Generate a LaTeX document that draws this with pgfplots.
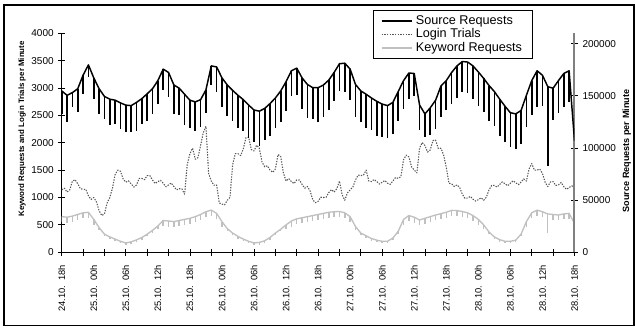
\documentclass[border=0pt]{standalone}
\usepackage{pgfplots}
\pgfplotsset{compat=1.18}
\usepackage{pgfplotstable}
\usepackage{fontspec}
\setmainfont{Liberation Sans}

\pgfplotstableread{
t S Sd K Kd
0 154700 22000 650 100
1 150500 26000 640 100
2 153100 14000 660 100
3 156800 22000 690 100
4 169800 18000 720 100
5 179700 12000 730 100
6 167200 20000 600 100
7 156800 24000 450 40
8 149400 22000 330 40
9 146800 25000 280 40
10 145800 23000 240 40
11 143200 25000 200 40
12 141100 26000 170 40
13 140600 25000 190 40
14 143700 27000 225 40
15 147300 24000 270 40
16 152000 26000 330 40
17 156800 24000 400 40
18 164600 22000 480 60
19 175600 20000 580 100
20 172400 24000 570 100
21 160400 28000 560 100
22 157300 26000 580 100
23 151500 29000 600 100
24 145800 27000 620 100
25 144200 28000 650 100
26 146300 26000 690 100
27 155700 22000 740 100
28 178700 18000 770 100
29 177700 24000 710 100
30 167200 28000 560 100
31 160400 30000 430 40
32 155200 29000 350 40
33 150500 31000 290 40
34 146300 30000 240 40
35 141100 32000 200 40
36 136400 31000 170 40
37 135300 33000 180 40
38 137900 30000 210 40
39 142600 31000 270 40
40 147900 29000 350 40
41 154700 30000 420 40
42 163500 28000 500 80
43 174000 24000 570 100
44 176600 26000 610 100
45 167200 30000 630 100
46 160900 32000 650 100
47 157800 30000 670 100
48 157800 33000 690 100
49 160400 31000 710 100
50 165100 29000 730 100
51 172400 27000 740 100
52 180800 26000 745 100
53 181300 28000 720 100
54 175600 30000 650 100
55 160900 31000 470 60
56 154700 30000 350 40
57 151500 32000 300 40
58 147900 31000 250 40
59 144700 33000 220 40
60 142100 32000 200 40
61 140600 31000 200 40
62 143700 30000 260 40
63 154100 28000 380 40
64 164600 27000 600 100
65 171900 25000 670 100
66 171400 22000 640 100
67 141100 24000 590 100
68 132700 22000 620 100
69 138500 26000 650 100
70 145800 28000 680 100
71 159400 30000 705 100
72 164600 28000 730 100
73 172400 30000 765 100
74 178700 31000 760 100
75 182900 29000 745 100
76 182400 30000 720 100
77 178700 32000 670 100
78 172900 33000 600 100
79 166700 32000 500 80
80 159900 34000 370 40
81 154100 33000 280 40
82 146800 35000 230 40
83 140000 34000 200 40
84 133800 33000 200 40
85 132700 34000 220 40
86 135900 32000 330 40
87 150500 30000 560 100
88 164600 33000 720 100
89 174000 35000 770 100
90 169800 30000 740 100
91 158800 76000 700 350
92 157300 30000 690 100
93 164600 31000 680 100
94 171400 32000 700 100
95 174000 30000 710 100
96 107100 0 530 0
}\data

\pgfplotstableread{
t L
0 1140
0.5 1170
1 1100
1.5 1140
2 1300
2.5 1325
3 1250
3.5 1160
4 1150
4.5 1150
5 1030
5.5 965
6 1000
6.5 920
7 760
7.5 670
8 700
8.5 900
9 1000
9.5 1170
10 1420
10.5 1500
11 1480
11.5 1340
12 1280
12.5 1305
13 1250
13.5 1190
14 1230
14.5 1350
15 1350
15.5 1325
16 1400
16.5 1400
17 1320
17.5 1255
18 1290
18.5 1315
19 1260
19.5 1195
20 1230
20.5 1265
21 1200
21.5 1140
22 1160
22.5 1160
23 1060
23.5 1600
24 1800
24.5 1900
25 1700
25.5 1725
26 1950
26.5 2185
27 2300
27.5 1440
28 1300
28.5 1225
29 1230
29.5 900
30 880
30.5 865
31 950
31.5 1000
32 1600
32.5 1800
33 1800
33.5 1765
34 1890
34.5 2095
35 2100
35.5 1875
36 1850
36.5 1955
37 1900
37.5 1650
38 1560
38.5 1580
39 1500
39.5 1460
40 1520
40.5 1785
41 1750
41.5 1450
42 1300
42.5 1345
43 1290
43.5 1255
44 1320
44.5 1320
45 1240
45.5 1170
46 1200
46.5 1120
47 960
47.5 905
48 930
48.5 1005
49 1000
49.5 1005
50 1090
50.5 1145
51 1100
51.5 1160
52 1300
52.5 1050
53 950
53.5 1085
54 1140
54.5 1190
55 1320
55.5 1410
56 1400
56.5 1410
57 1500
57.5 1300
58 1290
58.5 1330
59 1290
59.5 1245
60 1280
60.5 1310
61 1260
61.5 1240
62 1300
62.5 1365
63 1350
63.5 1380
64 1690
64.5 1775
65 1740
65.5 1560
66 1500
66.5 1450
67 1900
67.5 2005
68 1950
68.5 1830
69 1870
69.5 2040
70 2050
70.5 1895
71 1900
71.5 1775
72 1550
72.5 1260
73 1250
73.5 1200
74 1230
74.5 1185
75 1060
75.5 985
76 990
76.5 1020
77 970
77.5 935
78 960
78.5 995
79 950
79.5 1005
80 1140
80.5 1220
81 1220
81.5 1190
82 1240
82.5 1285
83 1250
83.5 1215
84 1260
84.5 1305
85 1270
85.5 1235
86 1280
86.5 1340
87 1300
87.5 1520
88 1620
88.5 1500
89 1500
89.5 1520
90 1440
90.5 1280
91 1200
91.5 1285
92 1290
92.5 1220
93 1230
93.5 1275
94 1200
94.5 1150
95 1180
95.5 1215
96 1170
}\login

\definecolor{kwgray}{RGB}{192,192,192}
\definecolor{logingray}{RGB}{85,85,85}
\definecolor{axgray}{RGB}{128,128,128}

\pgfplotsset{
  common/.style={
    scale only axis, width=384.6pt, height=164.25pt,
    at={(0pt,0pt)}, anchor=south west,
    xmin=0, xmax=96,
    tick align=center, major tick length=5pt,
    tick style={black, line width=0.6pt},
    ticklabel style={font=\fontsize{7.5}{8}\selectfont},
    /pgf/number format/fixed,
    /pgf/number format/precision=0,
    /pgf/number format/assume math mode=true,
    /pgf/number format/1000 sep={},
    scaled y ticks=false, scaled x ticks=false,
  },
}

\begin{document}
\begin{tikzpicture}
\useasboundingbox (-46.3pt,-57.5pt) rectangle (430.0pt,189.2pt);
\draw[line width=0.9pt] (-43.3pt,-55pt) rectangle (429.2pt,185.5pt);
\begin{axis}[common,
  ymin=0, ymax=4000,
  axis lines*=left,
  axis line style={black, line width=0.7pt},
  xtick={0,4,...,96}, xticklabels={},
  ytick={0,500,...,4000},
  extra x ticks={0,6,...,96},
  extra x tick labels={24.10.\ \ 18h,25.10.\ \ 00h,25.10.\ \ 06h,25.10.\ \ 12h,25.10.\ \ 18h,26.10.\ \ 00h,26.10.\ \ 06h,26.10.\ \ 12h,26.10.\ \ 18h,27.10.\ \ 00h,27.10.\ \ 06h,27.10.\ \ 12h,27.10.\ \ 18h,28.10.\ \ 00h,28.10.\ \ 06h,28.10.\ \ 12h,28.10.\ \ 18h},
  extra x tick style={major tick length=0pt, xticklabel style={rotate=90, anchor=east, font=\fontsize{7}{8}\selectfont, xshift=-6pt}},
  ylabel={Keyword Requests and Login Trials per Minute},
  every axis y label/.style={at={(axis description cs:-0.0775,0.563)}, rotate=90, anchor=center, font=\fontsize{5.9}{7}\selectfont\bfseries},
]
\addplot[kwgray, line width=1pt, line join=round] table[x=t, y=K] {\data};
\addplot[draw=none, mark=none, error bars/.cd, y dir=minus, y explicit, error mark=none, error bar style={draw=kwgray, line width=1.1pt, solid}] table[x=t, y=K, y error=Kd] {\data};
\addplot[logingray, line width=0.8pt, dash pattern=on 1pt off 1pt, line join=round] table[x=t, y=L] {\login};
\end{axis}
\begin{axis}[common,
  ymin=0, ymax=210000,
  axis x line=none,
  axis y line*=right,
  y axis line style={axgray, line width=1.5pt},
  ytick={0,50000,...,200000},
  ylabel={Source Requests per Minute},
  every axis y label/.style={at={(axis description cs:1.1018,0.4626)}, rotate=90, anchor=center, font=\fontsize{6.8}{8}\selectfont\bfseries},
  legend style={at={(rel axis cs:0.6076,1.1064)}, anchor=north west, draw=black, line width=0.6pt, fill=white,
    font=\fontsize{9.5}{11}\selectfont, inner xsep=5.5pt, inner ysep=2.5pt, row sep=-1.3pt, cells={anchor=west},
    nodes={inner ysep=1.5pt, inner xsep=2pt}},
  legend image code/.code={\draw[#1] (0pt,0pt) -- (23pt,0pt);},
]
\addplot[black, line width=1.1pt, line join=round] table[x=t, y=S] {\data};
\addlegendentry{Source Requests}
\addplot[draw=none, mark=none, forget plot, error bars/.cd, y dir=minus, y explicit, error mark=none, error bar style={draw=black, line width=1.25pt, solid}] table[x=t, y=S, y error=Sd] {\data};
\addlegendimage{logingray, line width=0.8pt, dash pattern=on 1pt off 1pt}
\addlegendentry{Login Trials}
\addlegendimage{kwgray, line width=1pt}
\addlegendentry{Keyword Requests}
\end{axis}
\end{tikzpicture}
\end{document}
